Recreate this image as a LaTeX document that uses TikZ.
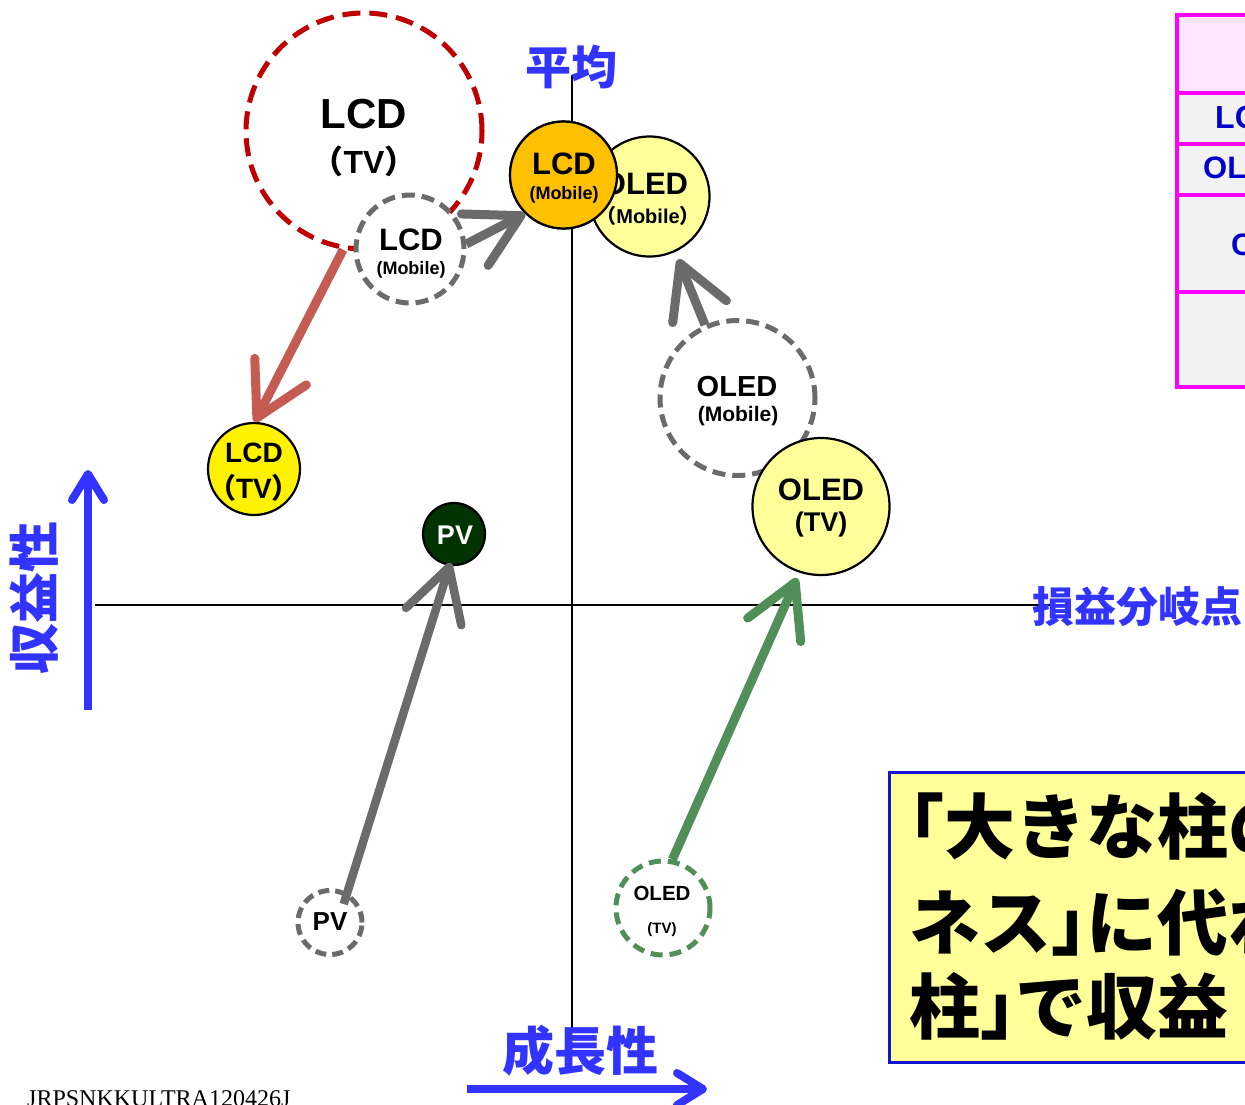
\documentclass[tikz,border=0pt]{standalone}
\usepackage{fontspec}
\setmainfont{Liberation Sans}
\newfontfamily\jp{Noto Sans CJK JP}
\newfontfamily\jph{Noto Sans CJK JP}[RawFeature=+halt]
\newfontfamily\serifcode{Liberation Serif}
\usetikzlibrary{arrows.meta}
\definecolor{lblue}{RGB}{51,51,255}
\definecolor{dred}{RGB}{192,0,0}
\definecolor{dgray}{RGB}{107,107,107}
\definecolor{agray}{RGB}{107,107,107}
\definecolor{ared}{RGB}{197,92,84}
\definecolor{agreen}{RGB}{80,143,88}
\definecolor{lyel}{RGB}{255,255,153}
\definecolor{orng}{RGB}{255,192,0}
\definecolor{dkgreen}{RGB}{0,51,0}
\definecolor{tmag}{RGB}{255,0,255}
\definecolor{tpink}{RGB}{255,230,255}
\definecolor{tgray}{RGB}{242,242,242}
\definecolor{tblue}{RGB}{0,0,204}
\definecolor{bblue}{RGB}{20,20,210}
\newcommand\fs[1]{\fontsize{#1}{#1}\selectfont}
\newcommand\LPar{{\jp\bfseries （}}
\newcommand\RPar{{\jp\bfseries ）}}
\begin{document}
\begin{tikzpicture}[x=1pt,y=-1pt,
  circ/.style={circle, inner sep=0pt, draw=black, line width=2.2pt},
  dcirc/.style={circle, inner sep=0pt, draw=dgray, fill=white, line width=5pt, dash pattern=on 13pt off 7pt},
  lbl/.style={inner sep=0pt},
  bigarrow/.style={line width=9pt, -{Straight Barb[length=52pt,width=58pt,round]}},
  axarrow/.style={line width=8pt, draw=lblue, -{Straight Barb[length=26pt,width=32pt,round]}},
  axlabel/.style={inner sep=0pt, text=lblue},
  ]
\clip (0,0) rectangle (1245,1104);
\fill[white] (0,0) rectangle (1245,1104);

% axes
\coordinate (vtop) at (572,75);
\coordinate (vbot) at (572,1028);
\coordinate (hleft) at (95,605);
\coordinate (hright) at (1050,605);
\draw[line width=2.5pt] (vtop) -- (vbot);
\draw[line width=2.5pt] (hleft) -- (hright);

% axis labels
\node[axlabel, font=\fs{46}\jp\bfseries] (avg) at (571,67) {平均};
\node[axlabel, font=\fs{42}\jp\bfseries, anchor=west] (bep) at (1032,607) {損益分岐点};
\node[axlabel, font=\fs{52}\jp\bfseries] (growth) at (580,1051) {成長性};
\node[axlabel, font=\fs{51}\jp\bfseries, rotate=90] (profit) at (34,598) {収益性};

% blue axis arrows
\coordinate (ya0) at (88,710);
\coordinate (ya1) at (88,470);
\coordinate (xa0) at (467,1089);
\coordinate (xa1) at (707,1089);
\draw[axarrow] (ya0) -- (ya1);
\draw[axarrow] (xa0) -- (xa1);

% table (top right)
\fill[tpink] (1177,15) rectangle (1270,93);
\fill[tgray] (1177,93) rectangle (1270,387);
\draw[tmag, line width=4pt] (1270,15) -- (1177,15) -- (1177,387) -- (1270,387);
\foreach \yy in {93,144,195,292} \draw[tmag, line width=4pt] (1177,\yy) -- (1270,\yy);
\node[lbl, anchor=west, text=tblue, font=\fs{32}\bfseries] (tlcd) at (1215,117) {LCD};
\node[lbl, anchor=west, text=tblue, font=\fs{31}\bfseries] (toled) at (1203,168) {OLED};
\node[lbl, anchor=west, text=tblue, font=\fs{31}\bfseries] (tc) at (1231,245) {C};

% text box (bottom right)
\draw[draw=bblue, fill=lyel, line width=3pt] (889,772) rectangle (1270,1062);
\node[lbl, anchor=base west, font=\fs{71}\jp\bfseries] (msg1) at (909,853) {{\jph 「}大きな柱の};
\node[lbl, anchor=base west, font=\fs{71}\jp\bfseries] (msg2) at (909,949) {ネス{\jph 」}に代わ};
\node[lbl, anchor=base west, font=\fs{71}\jp\bfseries] (msg3) at (909,1033) {柱{\jph 」}で収益};

% code
\node[lbl, anchor=base west, font=\fs{24}\serifcode] (code) at (27,1106) {JRPSNKKULTRA120426J};

% circles
\node[dcirc, draw=dred, dash pattern=on 18pt off 9pt, minimum size=236pt] (lcdtvb) at (364,131) {};
\node[dcirc, minimum size=108pt] (lcdmd) at (410,249) {};
\node[circ, fill=lyel, minimum size=120pt] (oledm) at (649.5,196.5) {};
\node[circ, fill=orng, minimum size=107pt] (lcdm) at (563.5,175) {};
\node[dcirc, minimum size=155pt] (oledmd) at (737.5,398) {};
\node[circ, fill=lyel, minimum size=137pt] (oledtv) at (821,506.5) {};
\node[circ, fill=yellow, minimum size=92pt] (lcdtv) at (254,469) {};
\node[circ, fill=dkgreen, minimum size=62pt] (pv) at (454,534) {};
\node[dcirc, dash pattern=on 11pt off 6pt, minimum size=64pt] (pvd) at (330,922.5) {};
\node[dcirc, draw=agreen, dash pattern=on 12pt off 7pt, minimum size=94pt] (oledtvd) at (663,908) {};

% circle texts
\node[lbl, font=\fs{42}\bfseries] (lcdtvb-a) at (364,114) {LCD};
\node[lbl, font=\fs{32}\bfseries] (lcdtvb-b) at (364,161) {\LPar TV\RPar};
\node[lbl, font=\fs{31}\bfseries] (lcdmd-a) at (411,240) {LCD};
\node[lbl, font=\fs{18}\bfseries] (lcdmd-b) at (411,270) {(Mobile)};
\node[lbl, font=\fs{31}\bfseries] (oledm-a) at (645,184) {OLED};
\node[lbl, font=\fs{20}\bfseries] (oledm-b) at (648,216) {\LPar Mobile\RPar};
\node[circ, fill=orng, minimum size=107pt] (lcdm2) at (563.5,175) {};
\node[lbl, font=\fs{31}\bfseries] (lcdm-a) at (564,164) {LCD};
\node[lbl, font=\fs{18}\bfseries] (lcdm-b) at (564,195) {(Mobile)};
\node[lbl, font=\fs{29}\bfseries] (oledmd-a) at (737,387) {OLED};
\node[lbl, font=\fs{21}\bfseries] (oledmd-b) at (738,416) {(Mobile)};
\node[lbl, font=\fs{31}\bfseries] (oledtv-a) at (821,490) {OLED};
\node[lbl, font=\fs{27}\bfseries] (oledtv-b) at (821,525) {(TV)};
\node[lbl, font=\fs{28}\bfseries] (lcdtv-a) at (254,453) {LCD};
\node[lbl, font=\fs{28}\bfseries] (lcdtv-b) at (254,488) {\LPar TV\RPar};
\node[lbl, font=\fs{27}\bfseries, text=white] (pv-a) at (455,535) {PV};
\node[lbl, font=\fs{26}\bfseries] (pvd-a) at (330,922) {PV};
\node[lbl, font=\fs{20.5}\bfseries] (oledtvd-a) at (662,893) {OLED};
\node[lbl, font=\fs{15}\bfseries] (oledtvd-b) at (662,930) {(TV)};

% arrows
\draw[bigarrow, draw=ared] (lcdtvb.-100.6) -- (lcdtv.89);
\draw[bigarrow, draw=agray] (lcdmd.5) -- (lcdm.225);
\draw[bigarrow, draw=agray, shorten >=8pt] (oledmd.114) -- (oledm.-65);
\draw[bigarrow, draw=agray, line width=8.5pt, shorten <=-12pt, shorten >=-3pt] (pvd.60.6) -- (pv.-98);
\draw[bigarrow, draw=agreen, shorten >=6pt] (oledtvd.79) -- (oledtv.-108);
\end{tikzpicture}
\end{document}
